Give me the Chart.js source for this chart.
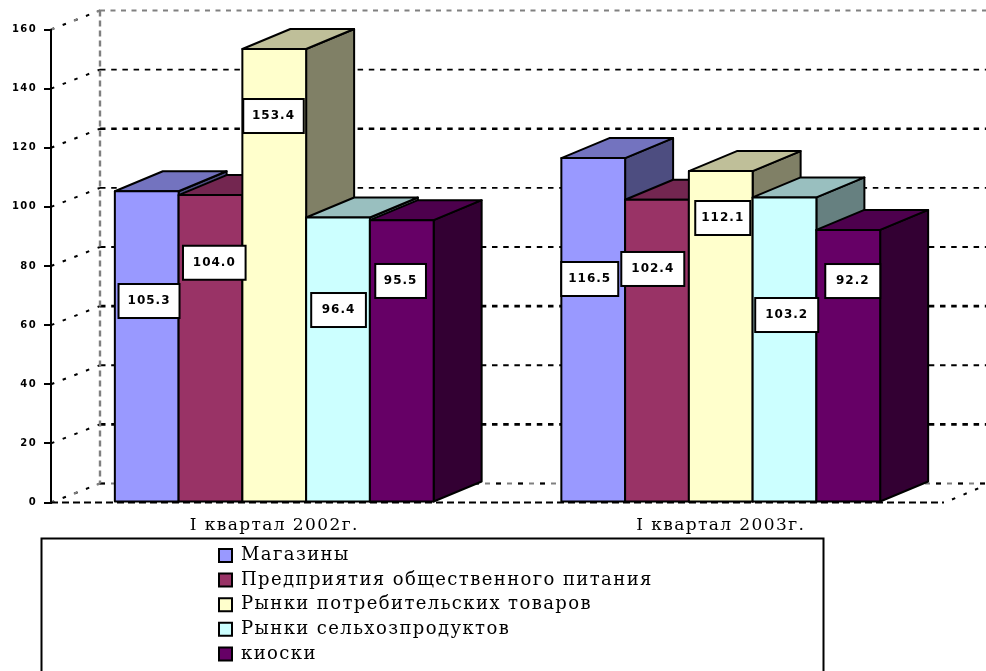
<!DOCTYPE html>
<html><head><meta charset="utf-8">
<style>html,body{margin:0;padding:0;background:#fff}#w{position:relative;width:986px;height:671px}</style>
<script src="https://cdn.jsdelivr.net/npm/chart.js@4"></script>
</head><body><div id="w"><canvas id="c" width="986" height="671"></canvas></div>
<script>
const categories = ['I квартал 2002г.', 'I квартал 2003г.'];
const seriesNames = ['Магазины', 'Предприятия общественного питания', 'Рынки потребительских товаров', 'Рынки сельхозпродуктов', 'киоски'];
const shops = [105.3, 116.5];
const catering = [104.0, 102.4];
const consumerMarkets = [153.4, 112.1];
const farmMarkets = [96.4, 103.2];
const kiosks = [95.5, 92.2];
const yTicks = [0, 20, 40, 60, 80, 100, 120, 140, 160];

// style and layout
const faceColors = ['#9999FF', '#993366', '#FFFFCC', '#CCFFFF', '#660066'];
const topColors = ['#7373BF', '#732650', '#BFBF99', '#99BFBF', '#4D004D'];
const sideColors = ['#4D4D80', '#4D1A33', '#808066', '#668080', '#330033'];
const DX = 48, DY = 20, WALL_DX = 49, WALL_DY = 19;
const heavyGrid = [20, 60, 120];
// label box offsets from the bar's top centre, per series then category
const labelBoxes = [
  [[-28.2, 92.8], [-32, 103.9]],
  [[-27.5, 50.7], [-35.7, 52.2]],
  [[-31, 50], [-25.5, 29.9]],
  [[-26.8, 75.5], [-29.3, 100.6]],
  [[-26.5, 43.8], [-23, 34.1]]
];
const boxW = [[61, 57], [62.6, 63], [60.5, 55], [54.7, 63], [50.7, 55]];
const boxH = 34;

const seriesValues = [shops, catering, consumerMarkets, farmMarkets, kiosks];

function poly(ctx, pts, fill) {
  ctx.beginPath();
  pts.forEach((p, i) => i ? ctx.lineTo(p[0], p[1]) : ctx.moveTo(p[0], p[1]));
  ctx.closePath();
  ctx.fillStyle = fill; ctx.fill();
  ctx.strokeStyle = '#000'; ctx.lineWidth = 2; ctx.lineJoin = 'round'; ctx.stroke();
}
function dash(ctx, x1, y1, x2, y2, color, width, pattern) {
  ctx.beginPath(); ctx.moveTo(x1, y1); ctx.lineTo(x2, y2);
  ctx.strokeStyle = color; ctx.lineWidth = width; ctx.setLineDash(pattern); ctx.stroke(); ctx.setLineDash([]);
}
const SPACING = '1.4px';
const plot3d = {
  id: 'plot3d',
  beforeLayout(chart) { chart.ctx.letterSpacing = SPACING; },
  afterLayout(chart) {
    const l = chart.legend;
    const p = l.options.labels.padding;
    l.left = 219 - p; l.right = l.left + 640; l.top = 546.5 - p; l.bottom = 671;
  },
  beforeDraw(chart) {
    const ctx = chart.ctx;
    ctx.letterSpacing = SPACING;
    const {left, right, bottom} = chart.chartArea;
    const y = chart.scales.y;
    ctx.save();
    // legend frame
    ctx.strokeStyle = '#000'; ctx.lineWidth = 2;
    ctx.beginPath(); ctx.moveTo(41.5, 675); ctx.lineTo(41.5, 538.5); ctx.lineTo(823.5, 538.5); ctx.lineTo(823.5, 675); ctx.stroke();
    // walls
    yTicks.forEach(v => {
      const py = y.getPixelForValue(v);
      const w = heavyGrid.includes(v) ? 2.6 : 1.8;
      const edge = v === 0 || v === 160;
      dash(ctx, left, py, left + WALL_DX, py - WALL_DY, '#000', 2, [3.5, 9]);
      if (edge) dash(ctx, left, py, left + WALL_DX, py - WALL_DY, '#808080', 2, [3.5, 21]);
      if (v === 160) dash(ctx, left + WALL_DX, py - WALL_DY, right + DX, py - WALL_DY, '#808080', 2, [5, 5.5]);
      else if (v === 0) {
        dash(ctx, left + WALL_DX, py - WALL_DY, right + DX, py - WALL_DY, '#808080', 2, [5, 6]);
        dash(ctx, left + WALL_DX, py - WALL_DY, right + DX, py - WALL_DY, '#000', 2, [5, 17]);
      } else dash(ctx, left + WALL_DX, py - WALL_DY, right + DX, py - WALL_DY, '#000', w, [5.5, 5.7]);
    });
    dash(ctx, left + WALL_DX, y.top - WALL_DY, left + WALL_DX, bottom - WALL_DY, '#808080', 2.4, [6, 4]);
    dash(ctx, left, y.top, left, bottom, '#808080', 2, [6, 4]);
    // floor
    dash(ctx, left, bottom, right, bottom, '#000', 2, [7, 4]);
    dash(ctx, right + 8, bottom - 3, right + DX, bottom - DY, '#000', 2, [3.5, 9]);
    ctx.restore();
  },
  beforeDatasetDraw() { return false; },
  beforeDatasetsDraw(chart) {
    const ctx = chart.ctx;
    ctx.letterSpacing = '0px';
    ctx.save();
    categories.forEach((_, ci) => {
      seriesValues.forEach((_, si) => {
        const b = chart.getDatasetMeta(si).data[ci];
        const l = b.x - b.width / 2, r = b.x + b.width / 2, t = b.y, bt = b.base;
        poly(ctx, [[r, t], [r + DX, t - DY], [r + DX, bt - DY], [r, bt]], sideColors[si]);
        poly(ctx, [[l, t], [l + DX, t - DY], [r + DX, t - DY], [r, t]], topColors[si]);
        b.draw(ctx);
        ctx.strokeStyle = '#000'; ctx.lineWidth = 2; ctx.strokeRect(l, t, r - l, bt - t);
      });
    });
    ctx.restore();
  },
  afterDatasetsDraw(chart) {
    const ctx = chart.ctx;
    ctx.save();
    ctx.letterSpacing = '1px';
    ctx.font = 'bold 12px "DejaVu Sans"';
    ctx.textAlign = 'center'; ctx.textBaseline = 'middle';
    seriesValues.forEach((vals, si) => vals.forEach((v, ci) => {
      const b = chart.getDatasetMeta(si).data[ci];
      const [ox, oy] = labelBoxes[si][ci];
      const x = b.x + ox, yy = b.y + oy, w = boxW[si][ci];
      ctx.fillStyle = '#fff'; ctx.fillRect(x, yy, w, boxH);
      ctx.strokeStyle = '#000'; ctx.lineWidth = 2; ctx.strokeRect(x, yy, w, boxH);
      ctx.fillStyle = '#000'; ctx.fillText(v.toFixed(1), x + w / 2, yy + boxH / 2);
    }));
    ctx.restore();
  }
};

new Chart(document.getElementById('c'), {
  type: 'bar',
  data: {
    labels: categories,
    datasets: seriesNames.map((n, i) => ({
      label: n, data: seriesValues[i], backgroundColor: faceColors[i], borderColor: '#000', borderWidth: 0,
      categoryPercentage: 0.714, barPercentage: 1
    }))
  },
  options: {
    responsive: false, animation: false, events: [],
    layout: {padding: {left: 0, right: 42, top: 29.5, bottom: 118.5}},
    plugins: {
      tooltip: {enabled: false},
      legend: {
        position: 'chartArea', align: 'start',
        labels: {
          font: {family: '"DejaVu Serif"', size: 18}, color: '#000', boxWidth: 13, boxHeight: 13, padding: 6.6,
          generateLabels: c => Chart.defaults.plugins.legend.labels.generateLabels(c).map(i => ({...i, lineWidth: 2, strokeStyle: '#000'}))
        }
      }
    },
    scales: {
      x: {
        grid: {display: false}, border: {display: false},
        ticks: {font: {family: '"DejaVu Serif"', size: 17}, color: '#000', padding: 5, maxRotation: 0, autoSkip: false},
        afterFit: s => { s.height = 50; }
      },
      y: {
        min: 0, max: 160,
        afterBuildTicks: s => { s.ticks = yTicks.map(v => ({value: v})); },
        grid: {drawOnChartArea: false, drawTicks: true, tickLength: 7, color: '#000', lineWidth: 2},
        border: {display: true, color: '#000', width: 2},
        ticks: {font: {family: '"DejaVu Sans"', size: 10, weight: 'bold'}, color: '#000', padding: 7},
        afterFit: s => { s.width = 51; }
      }
    }
  },
  plugins: [plot3d]
});
</script></body></html>
